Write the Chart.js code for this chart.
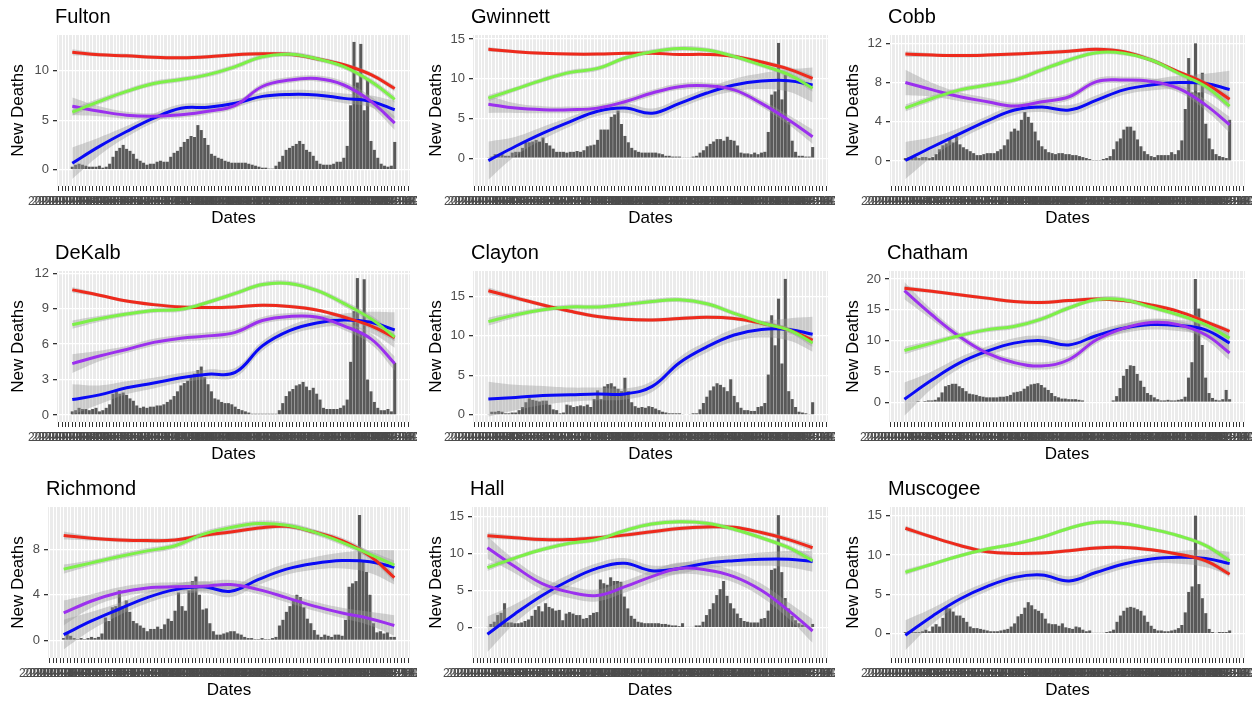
<!DOCTYPE html>
<html lang="en">
<head>
<meta charset="UTF-8">
<title>New Deaths by County</title>
<style>
  body { margin: 0; background: #ffffff; width: 1252px; height: 702px; overflow: hidden; position: relative; }
  canvas { position: absolute; }
</style>
</head>
<body>
<script src="https://cdn.jsdelivr.net/npm/chart.js"></script>
<script>
// weekly date labels (x axis), 4 empty weeks either side of the bars
const PAD = 4;
const dateLabels = [];
for (let d = new Date(Date.UTC(2020, 1, 10)), k = 0; k < 104; k++, d.setUTCDate(d.getUTCDate() + 7)) {
  dateLabels.push(d.toISOString().slice(0, 10));
}
// bar index of each point given for the smoothed curves
const sampleAt = [0, 8, 16, 24, 32, 40, 48, 56, 64, 72, 80, 88, 95];

// ---- Fulton
const fultonTicks = [0, 5, 10];
const fultonBars = [0.3,0.5,0.6,0.5,0.4,0.3,0.3,0.3,0.4,0.2, 0.3,0.6,1.3,1.9,2.2,2.5,2.1,1.9,1.6,1.1,
  0.9,0.7,0.5,0.6,0.6,0.8,0.9,0.8,0.8,1.3, 1.7,1.9,2.3,2.8,3.1,3.4,3.3,4.5,4.0,3.2,
  2.5,1.6,1.4,1.2,1.1,0.9,0.8,0.7,0.7,0.7, 0.7,0.7,0.6,0.5,0.4,0.3,0.2,0.2,0.1,0.1,
  0.4,0.8,1.4,2.0,2.2,2.4,2.6,2.9,2.6,2.0, 1.8,1.4,0.9,0.6,0.5,0.5,0.5,0.6,0.8,0.8,
  1.2,2.4,6.5,12.9,8.8,12.7,6.0,9.1,2.9,2.0, 1.2,0.6,0.4,0.3,0.4,2.8];
const fultonRed = [11.85,11.6,11.5,11.35,11.3,11.4,11.6,11.7,11.65,11.2,10.6,9.6,8.2];
const fultonRedSe = [0.3,0.2,0.2,0.2,0.2,0.2,0.2,0.2,0.2,0.2,0.2,0.25,0.3];
const fultonGreen = [5.8,6.9,7.9,8.7,9.1,9.6,10.4,11.4,11.65,11.2,10.4,8.9,7.1];
const fultonGreenSe = [0.35,0.3,0.25,0.25,0.25,0.25,0.25,0.25,0.25,0.25,0.25,0.3,0.35];
const fultonPurple = [6.4,5.9,5.5,5.4,5.55,5.9,6.5,8.4,9.05,9.2,8.55,6.9,4.7];
const fultonPurpleSe = [0.9,0.5,0.35,0.3,0.3,0.3,0.3,0.3,0.3,0.3,0.35,0.5,0.7];
const fultonBlue = [0.65,2.35,3.85,5.2,6.2,6.3,6.7,7.4,7.6,7.55,7.2,6.9,6.05];
const fultonBlueSe = [1.6,0.9,0.55,0.45,0.4,0.4,0.4,0.4,0.45,0.45,0.5,0.6,0.9];

// ---- Gwinnett
const gwinnettTicks = [0, 5, 10, 15];
const gwinnettBars = [0.1,0.2,0.5,0.5,0.5,0.3,0.3,0.7,0.8,0.8, 1.3,2.0,2.0,2.1,2.3,2.1,2.6,1.9,1.6,1.2,
  0.8,0.8,0.8,0.7,0.8,0.8,0.9,0.8,1.0,1.5, 1.6,1.7,2.3,3.6,3.6,3.6,5.2,5.5,6.0,4.3,
  2.8,2.0,1.3,1.0,0.8,0.7,0.7,0.7,0.7,0.7, 0.6,0.5,0.3,0.3,0.2,0.2,0.2,0.1,0.1,0.1,
  0.2,0.3,0.7,1.0,1.5,1.8,2.1,2.4,2.4,2.2, 2.7,2.3,2.2,1.6,0.7,0.6,0.6,0.5,0.7,0.5,
  0.7,0.8,3.3,8.0,8.4,14.5,7.4,10.5,4.6,2.2, 0.8,0.3,0.3,0.2,0.2,1.4];
const gwinnettRed = [13.7,13.4,13.2,13.1,13.1,13.2,13.2,13.05,13.05,12.8,12.1,11.2,10.05];
const gwinnettRedSe = [0.3,0.2,0.2,0.2,0.2,0.2,0.2,0.2,0.2,0.2,0.25,0.3,0.4];
const gwinnettGreen = [7.55,8.7,9.85,10.8,11.3,12.6,13.4,13.8,13.6,12.8,11.7,10.5,8.8];
const gwinnettGreenSe = [0.4,0.3,0.3,0.3,0.3,0.3,0.3,0.3,0.3,0.3,0.3,0.35,0.45];
const gwinnettPurple = [6.8,6.3,6.1,6.1,6.3,7.1,8.2,9.0,9.1,8.6,6.9,4.8,2.7];
const gwinnettPurpleSe = [1.1,0.6,0.45,0.4,0.4,0.4,0.4,0.4,0.4,0.4,0.45,0.6,0.9];
const gwinnettBlue = [-0.3,1.5,3.15,4.6,5.9,6.3,5.65,6.9,8.2,9.2,9.7,9.75,9.2];
const gwinnettBlueSe = [2.4,1.2,0.8,0.6,0.6,0.6,0.6,0.6,0.6,0.8,1.0,1.4,2.2];

// ---- Cobb
const cobbTicks = [0, 4, 8, 12];
const cobbBars = [0.3,0.4,0.5,0.4,0.3,0.4,0.4,0.3,0.4,0.7, 1.2,1.6,1.8,2.3,1.9,2.5,1.7,1.4,1.2,1.0,
  0.8,0.6,0.6,0.7,0.8,0.8,0.8,1.0,1.2,1.6, 2.2,3.0,3.3,3.1,4.2,5.0,4.5,3.9,3.0,2.1,
  1.5,1.2,0.9,0.8,0.7,0.8,0.8,0.7,0.7,0.6, 0.6,0.5,0.4,0.3,0.2,0.1,0.1,0.1,0.2,0.3,
  0.5,1.2,2.0,2.3,3.2,3.5,3.5,3.1,2.2,1.5, 1.0,0.7,0.5,0.4,0.6,0.6,0.6,0.6,0.9,0.7,
  1.1,2.1,5.3,10.5,7.0,12.0,7.0,9.0,3.8,2.3, 1.2,0.7,0.5,0.4,0.3,4.2];
const cobbRed = [10.9,10.8,10.75,10.8,10.9,11.05,11.2,11.4,11.15,10.3,9.1,7.9,6.3];
const cobbRedSe = [0.3,0.2,0.2,0.2,0.2,0.2,0.2,0.2,0.2,0.2,0.2,0.25,0.35];
const cobbGreen = [5.4,6.4,7.25,7.75,8.25,9.3,10.3,11.05,11.0,10.3,8.95,7.6,5.6];
const cobbGreenSe = [0.35,0.3,0.25,0.25,0.25,0.25,0.25,0.25,0.25,0.25,0.25,0.3,0.4];
const cobbPurple = [8.0,7.25,6.55,6.05,5.6,6.05,6.55,8.1,8.25,8.1,7.4,5.7,3.7];
const cobbPurpleSe = [1.3,0.7,0.45,0.4,0.35,0.35,0.35,0.35,0.35,0.35,0.4,0.55,0.8];
const cobbBlue = [0.05,1.45,2.8,4.1,5.2,5.5,5.2,6.2,7.25,7.75,8.0,7.9,7.3];
const cobbBlueSe = [1.9,1.0,0.6,0.5,0.5,0.5,0.5,0.5,0.5,0.55,0.7,1.0,1.9];

// ---- DeKalb
const dekalbTicks = [0, 3, 6, 9, 12];
const dekalbBars = [0.3,0.4,0.6,0.5,0.5,0.4,0.5,0.6,0.3,0.4, 0.6,0.9,1.8,2.0,1.8,1.9,1.7,1.4,1.2,0.8,
  0.6,0.7,0.6,0.7,0.7,0.8,0.8,0.9,1.1,1.3, 1.6,2.0,2.5,2.7,2.9,3.3,3.5,3.8,4.1,3.2,
  2.6,2.0,1.4,1.3,1.1,1.0,1.0,0.9,0.7,0.5, 0.4,0.3,0.2,0.1,0.1,0.1,0.1,0.1,0.1,0.1,
  0.1,0.4,1.0,1.6,2.0,2.2,2.5,2.6,2.8,2.4, 2.1,2.3,1.8,1.3,0.6,0.5,0.5,0.5,0.5,0.6,
  0.8,1.3,4.5,8.8,11.6,7.0,11.5,3.0,2.0,1.1, 0.6,0.4,0.4,0.5,0.3,4.4];
const dekalbRed = [10.6,10.15,9.65,9.35,9.15,9.1,9.15,9.3,9.2,8.9,8.3,7.55,6.55];
const dekalbRedSe = [0.25,0.15,0.15,0.15,0.15,0.15,0.15,0.15,0.15,0.15,0.2,0.25,0.3];
const dekalbGreen = [7.65,8.15,8.55,8.85,8.95,9.55,10.3,11.05,11.15,10.55,9.45,8.15,6.6];
const dekalbGreenSe = [0.35,0.25,0.2,0.2,0.2,0.2,0.2,0.2,0.2,0.2,0.25,0.3,0.35];
const dekalbPurple = [4.35,5.0,5.55,6.15,6.5,6.7,7.0,8.0,8.35,8.3,7.55,6.45,4.35];
const dekalbPurpleSe = [0.8,0.45,0.3,0.3,0.3,0.3,0.3,0.3,0.3,0.3,0.35,0.45,0.6];
const dekalbBlue = [1.3,1.7,2.3,2.7,3.15,3.45,3.6,5.85,7.15,7.8,8.05,7.85,7.2];
const dekalbBlueSe = [1.3,0.8,0.55,0.45,0.4,0.4,0.4,0.4,0.4,0.45,0.55,0.9,1.5];

// ---- Clayton
const claytonTicks = [0, 5, 10, 15];
const claytonBars = [0.1,0.4,0.4,0.5,0.4,0.2,0.2,0.3,0.3,0.6, 1.0,1.6,2.1,1.9,1.8,1.7,1.8,1.8,1.3,0.7,
  0.6,0.2,0.3,1.3,1.2,1.0,1.1,1.2,1.1,1.3, 1.0,2.0,3.1,2.0,3.6,3.9,4.0,3.6,3.3,3.0,
  4.7,3.0,1.6,1.1,0.9,1.0,0.9,1.1,1.0,0.8, 0.6,0.4,0.3,0.2,0.2,0.2,0.2,0.1,0.0,0.1,
  0.2,0.2,0.7,1.5,2.3,3.1,3.6,4.0,3.8,3.5, 3.0,4.5,2.4,1.6,0.9,0.6,0.6,0.5,0.5,1.0,
  1.1,1.5,5.1,12.6,8.8,14.7,6.5,17.2,3.0,2.0, 1.0,0.4,0.3,0.2,0.1,1.6];
const claytonRed = [15.7,14.8,13.9,13.1,12.45,12.1,12.0,12.2,12.35,12.2,11.6,10.75,9.45];
const claytonRedSe = [0.4,0.3,0.25,0.25,0.25,0.25,0.25,0.25,0.25,0.25,0.3,0.35,0.5];
const claytonGreen = [11.8,12.65,13.3,13.65,13.65,13.95,14.35,14.55,14.05,12.85,11.65,10.75,9.1];
const claytonGreenSe = [0.5,0.35,0.3,0.3,0.3,0.3,0.3,0.3,0.3,0.3,0.3,0.35,0.5];
const claytonBlue = [2.0,2.2,2.45,2.55,2.65,2.65,3.6,6.6,8.6,10.1,10.8,10.8,10.2];
const claytonBlueSe = [2.2,1.6,1.2,0.9,0.8,0.7,0.7,0.7,0.7,0.8,1.0,1.4,2.2];

// ---- Chatham
const chathamTicks = [0, 5, 10, 15, 20];
const chathamBars = [0.1,0.0,0.1,0.1,0.2,0.1,0.2,0.3,0.3,0.4, 0.8,1.6,2.6,2.8,3.0,3.0,2.6,2.3,1.8,1.4,
  1.3,1.2,1.0,0.9,0.8,0.8,0.8,0.8,0.9,0.9, 1.0,1.2,1.6,1.7,1.8,2.2,2.6,2.9,3.0,3.1,
  2.8,2.4,2.0,1.5,1.0,0.8,0.6,0.6,0.5,0.5, 0.5,0.4,0.3,0.1,0.1,0.1,0.1,0.1,0.1,0.1,
  0.1,0.3,1.0,2.3,4.3,5.4,6.0,5.9,4.6,3.5, 2.5,1.5,1.2,0.8,0.5,0.3,0.3,0.4,0.3,0.3,
  0.4,0.5,0.9,4.0,6.5,20.0,15.2,9.3,4.0,1.5, 0.7,0.4,0.3,0.5,2.0,0.5];
const chathamRed = [18.5,18.0,17.45,16.9,16.35,16.2,16.5,16.75,16.5,15.8,14.75,13.1,11.5];
const chathamRedSe = [0.4,0.3,0.3,0.3,0.3,0.3,0.3,0.3,0.3,0.3,0.3,0.35,0.45];
const chathamGreen = [8.4,9.6,10.8,11.75,12.3,13.5,15.3,16.65,16.65,15.45,14.2,12.6,10.4];
const chathamGreenSe = [0.6,0.45,0.4,0.4,0.4,0.4,0.4,0.4,0.4,0.4,0.4,0.45,0.6];
const chathamPurple = [18.1,14.2,10.7,8.0,6.45,5.9,6.9,10.1,12.0,12.95,12.6,10.95,8.0];
const chathamPurpleSe = [1.4,0.8,0.6,0.6,0.6,0.6,0.6,0.6,0.6,0.6,0.6,0.8,1.2];
const chathamBlue = [0.5,3.6,6.35,8.25,9.6,10.0,9.3,10.8,12.0,12.6,12.45,11.75,9.6];
const chathamBlueSe = [2.7,1.4,0.9,0.8,0.8,0.8,0.8,0.8,0.8,0.8,0.9,1.1,1.6];

// ---- Richmond
const richmondTicks = [0, 4, 8];
const richmondBars = [0.2,0.6,0.4,0.2,0.1,0.2,0.1,0.2,0.3,0.2, 0.3,0.6,2.0,1.7,2.9,3.0,4.4,3.0,3.5,2.5,
  1.7,1.5,1.3,1.1,0.8,1.0,1.0,1.2,1.0,1.4, 1.9,1.7,2.6,4.2,3.0,2.6,4.4,5.2,5.6,4.0,
  2.7,2.8,1.5,0.8,0.5,0.5,0.6,0.7,0.8,0.8, 0.6,0.5,0.3,0.2,0.2,0.1,0.1,0.2,0.1,0.1,
  0.2,0.3,1.3,1.8,2.5,3.0,3.5,4.0,3.8,2.9, 1.9,1.5,0.9,0.5,0.3,0.5,0.4,0.3,0.5,0.5,
  0.4,1.8,4.7,5.0,5.2,11.0,7.0,6.0,4.0,1.5, 0.7,0.8,0.6,0.7,0.3,0.3];
const richmondRed = [9.2,8.95,8.8,8.75,8.8,9.2,9.5,9.85,10.0,9.5,8.75,7.4,5.5];
const richmondRedSe = [0.35,0.2,0.2,0.2,0.2,0.2,0.2,0.2,0.2,0.2,0.25,0.3,0.35];
const richmondGreen = [6.25,6.8,7.35,7.85,8.3,9.3,9.9,10.25,10.1,9.5,8.6,7.55,6.6];
const richmondGreenSe = [0.4,0.25,0.25,0.25,0.25,0.25,0.25,0.25,0.25,0.25,0.25,0.3,0.4];
const richmondPurple = [2.4,3.45,4.2,4.6,4.7,4.75,4.9,4.45,3.75,3.0,2.4,1.9,1.3];
const richmondPurpleSe = [1.1,0.6,0.45,0.4,0.4,0.4,0.4,0.4,0.4,0.4,0.45,0.6,0.9];
const richmondBlue = [0.5,1.7,2.75,3.75,4.45,4.7,4.3,5.35,6.25,6.75,7.0,6.9,6.4];
const richmondBlueSe = [1.3,0.8,0.55,0.5,0.5,0.5,0.5,0.5,0.5,0.55,0.7,1.0,1.5];

// ---- Hall
const hallTicks = [0, 5, 10, 15];
const hallBars = [0.1,0.5,0.8,1.7,2.0,3.3,0.7,0.7,0.6,0.6, 0.7,0.9,1.1,1.6,2.4,2.9,2.2,3.3,2.8,2.6,
  2.3,2.4,1.0,1.9,2.1,1.9,1.7,1.7,1.2,1.3, 1.7,2.0,2.1,6.5,6.0,5.8,6.8,6.3,6.3,6.2,
  4.2,2.6,1.6,1.2,0.8,0.7,0.6,0.6,0.6,0.6, 0.6,0.5,0.5,0.4,0.3,0.3,0.2,0.6,0.1,0.1,
  0.1,0.3,0.3,0.8,1.7,2.5,3.3,4.4,5.2,6.3, 4.3,3.3,2.6,1.9,1.3,0.9,0.8,0.7,0.7,0.7,
  1.2,1.3,2.3,7.8,8.0,15.2,7.5,4.0,2.6,1.6, 1.0,0.6,0.4,0.2,0.1,0.5];
const hallRed = [12.4,12.15,11.9,11.9,12.15,12.5,12.95,13.4,13.6,13.55,12.85,11.9,10.8];
const hallRedSe = [0.45,0.3,0.3,0.3,0.3,0.3,0.3,0.3,0.3,0.3,0.3,0.35,0.45];
const hallGreen = [8.1,9.4,10.55,11.4,11.9,13.1,14.0,14.3,14.1,13.3,12.15,10.8,9.05];
const hallGreenSe = [0.45,0.3,0.3,0.3,0.3,0.3,0.3,0.3,0.3,0.3,0.3,0.35,0.45];
const hallPurple = [10.8,8.25,5.95,4.8,4.35,5.5,6.9,8.0,7.8,6.9,5.05,2.3,-0.45];
const hallPurpleSe = [1.5,0.9,0.8,0.8,0.8,0.8,0.8,0.8,0.8,0.8,0.9,1.1,1.6];
const hallBlue = [-0.9,1.85,4.35,6.4,8.0,8.7,7.7,8.0,8.7,9.05,9.25,9.25,8.95];
const hallBlueSe = [2.4,1.3,0.9,0.8,0.7,0.7,0.7,0.7,0.7,0.75,0.9,1.1,1.4];

// ---- Muscogee
const muscogeeTicks = [0, 5, 10, 15];
const muscogeeBars = [0.2,0.3,0.2,0.2,0.2,0.3,0.5,0.3,0.9,1.2, 0.9,2.0,3.3,3.2,2.8,2.3,2.3,2.0,1.5,0.9,
  0.7,0.7,0.6,0.5,0.4,0.3,0.3,0.3,0.4,0.5, 0.6,0.9,1.3,2.2,2.5,3.3,4.0,3.6,3.1,2.9,
  2.6,1.9,1.3,1.2,1.2,1.0,1.3,0.8,0.7,0.6, 0.9,0.8,0.5,0.3,0.4,0.1,0.1,0.1,0.1,0.2,
  0.3,0.5,1.5,2.3,2.9,3.3,3.4,3.3,3.1,2.9, 2.3,1.5,1.0,0.6,0.4,0.4,0.3,0.3,0.4,0.5,
  0.7,1.1,2.7,5.3,6.0,15.0,6.3,4.5,2.6,0.6, 0.2,0.1,0.2,0.2,0.2,0.4];
const muscogeeRed = [13.4,12.25,11.2,10.4,10.2,10.25,10.55,10.9,10.95,10.65,10.1,9.25,7.55];
const muscogeeRedSe = [0.35,0.25,0.25,0.25,0.25,0.25,0.25,0.25,0.25,0.25,0.25,0.3,0.4];
const muscogeeGreen = [7.8,8.85,9.9,10.75,11.4,12.25,13.4,14.15,14.0,13.3,12.45,11.2,9.25];
const muscogeeGreenSe = [0.35,0.25,0.25,0.25,0.25,0.25,0.25,0.25,0.25,0.25,0.25,0.3,0.4];
const muscogeeBlue = [-0.2,2.25,4.4,6.0,7.15,7.45,6.7,7.8,8.85,9.5,9.7,9.55,8.9];
const muscogeeBlueSe = [1.9,1.0,0.7,0.6,0.6,0.6,0.6,0.6,0.6,0.6,0.8,1.1,1.5];

const RED = '#ee2a1c', GREEN = '#7df048', PURPLE = '#9b30ee', BLUE = '#0a0af5';
const BAND = 'rgba(153,153,153,0.4)';

const panels = [
  { title: 'Fulton', left: 0, top: 0, plotLeft: 57, yMin: -1.65, yMax: 13.6, ticks: fultonTicks, bars: fultonBars,
    lines: [[fultonGreen, fultonGreenSe, GREEN], [fultonRed, fultonRedSe, RED], [fultonPurple, fultonPurpleSe, PURPLE], [fultonBlue, fultonBlueSe, BLUE]] },
  { title: 'Gwinnett', left: 418, top: 0, plotLeft: 55, yMin: -3.5, yMax: 15.5, ticks: gwinnettTicks, bars: gwinnettBars,
    lines: [[gwinnettGreen, gwinnettGreenSe, GREEN], [gwinnettRed, gwinnettRedSe, RED], [gwinnettPurple, gwinnettPurpleSe, PURPLE], [gwinnettBlue, gwinnettBlueSe, BLUE]] },
  { title: 'Cobb', left: 835, top: 0, plotLeft: 55, yMin: -2.55, yMax: 12.85, ticks: cobbTicks, bars: cobbBars,
    lines: [[cobbGreen, cobbGreenSe, GREEN], [cobbRed, cobbRedSe, RED], [cobbPurple, cobbPurpleSe, PURPLE], [cobbBlue, cobbBlueSe, BLUE]] },
  { title: 'DeKalb', left: 0, top: 236, plotLeft: 57, yMin: -0.6, yMax: 12.2, ticks: dekalbTicks, bars: dekalbBars,
    lines: [[dekalbGreen, dekalbGreenSe, GREEN], [dekalbRed, dekalbRedSe, RED], [dekalbPurple, dekalbPurpleSe, PURPLE], [dekalbBlue, dekalbBlueSe, BLUE]] },
  { title: 'Clayton', left: 418, top: 236, plotLeft: 55, yMin: -0.9, yMax: 18.2, ticks: claytonTicks, bars: claytonBars,
    lines: [[claytonGreen, claytonGreenSe, GREEN], [claytonRed, claytonRedSe, RED], [claytonBlue, claytonBlueSe, BLUE]] },
  { title: 'Chatham', left: 835, top: 236, plotLeft: 54, yMin: -3.2, yMax: 21.3, ticks: chathamTicks, bars: chathamBars,
    lines: [[chathamGreen, chathamGreenSe, GREEN], [chathamRed, chathamRedSe, RED], [chathamPurple, chathamPurpleSe, PURPLE], [chathamBlue, chathamBlueSe, BLUE]] },
  { title: 'Richmond', left: 0, top: 472, plotLeft: 48, yMin: -1.55, yMax: 11.7, ticks: richmondTicks, bars: richmondBars,
    lines: [[richmondGreen, richmondGreenSe, GREEN], [richmondRed, richmondRedSe, RED], [richmondPurple, richmondPurpleSe, PURPLE], [richmondBlue, richmondBlueSe, BLUE]] },
  { title: 'Hall', left: 418, top: 472, plotLeft: 54, yMin: -4.1, yMax: 16.3, ticks: hallTicks, bars: hallBars,
    lines: [[hallGreen, hallGreenSe, GREEN], [hallRed, hallRedSe, RED], [hallPurple, hallPurpleSe, PURPLE], [hallBlue, hallBlueSe, BLUE]] },
  { title: 'Muscogee', left: 835, top: 472, plotLeft: 55, yMin: -3.1, yMax: 16.1, ticks: muscogeeTicks, bars: muscogeeBars,
    lines: [[muscogeeGreen, muscogeeGreenSe, GREEN], [muscogeeRed, muscogeeRedSe, RED], [muscogeeBlue, muscogeeBlueSe, BLUE]] }
];

Chart.defaults.font.family = "'Liberation Sans', Arial, Helvetica, sans-serif";
Chart.defaults.animation = false;

// grey panel background behind the grid
const panelBg = {
  id: 'panelBg',
  beforeDraw(chart) {
    const { ctx, chartArea: a } = chart;
    ctx.save();
    ctx.fillStyle = '#ebebeb';
    ctx.fillRect(a.left, a.top, a.right - a.left, a.bottom - a.top);
    ctx.restore();
  }
};
// panel title, lined up with the plot's left edge
const panelTitle = {
  id: 'panelTitle',
  afterDraw(chart, args, opts) {
    const { ctx, chartArea: a } = chart;
    ctx.save();
    ctx.fillStyle = '#000000';
    ctx.font = "20px 'Liberation Sans', Arial, sans-serif";
    ctx.textBaseline = 'alphabetic';
    ctx.fillText(opts.text, a.left - 2, 23);
    ctx.restore();
  }
};

function pts(values, offsets, sign) {
  return values.map((v, k) => ({ x: dateLabels[PAD + sampleAt[k]], y: offsets ? v + sign * offsets[k] : v }));
}

panels.forEach(p => {
  const canvas = document.createElement('canvas');
  canvas.width = 417;
  canvas.height = 236;
  canvas.style.left = p.left + 'px';
  canvas.style.top = p.top + 'px';
  document.body.appendChild(canvas);

  const datasets = [];
  p.lines.forEach(([fit, se, color], n) => {
    datasets.push({ type: 'line', data: pts(fit), borderColor: color, borderWidth: 3, pointRadius: 0, tension: 0.4, fill: false, order: n });
  });
  p.lines.forEach(([fit, se]) => {
    datasets.push({ type: 'line', data: pts(fit, se, -1), borderColor: 'rgba(0,0,0,0)', borderWidth: 0, pointRadius: 0, tension: 0.4, fill: false, order: 10 });
    datasets.push({ type: 'line', data: pts(fit, se, 1), borderColor: 'rgba(0,0,0,0)', borderWidth: 0, pointRadius: 0, tension: 0.4, fill: '-1', backgroundColor: BAND, order: 10 });
  });
  datasets.push({
    type: 'bar',
    data: p.bars.map((v, i) => ({ x: dateLabels[PAD + i], y: v })),
    backgroundColor: '#595959',
    barPercentage: 0.9,
    categoryPercentage: 1,
    order: 20
  });

  new Chart(canvas, {
    type: 'bar',
    data: { labels: dateLabels, datasets: datasets },
    options: {
      responsive: false,
      devicePixelRatio: 1,
      layout: { padding: { top: 35, right: 7, bottom: 0, left: 0 } },
      plugins: {
        legend: { display: false },
        tooltip: { enabled: false },
        panelTitle: { text: p.title }
      },
      scales: {
        x: {
          offset: true,
          grid: { offset: false, color: '#ffffff', lineWidth: 1, tickLength: 5, tickColor: '#333333' },
          border: { display: false },
          ticks: { autoSkip: false, maxRotation: 0, minRotation: 0, color: '#4d4d4d', font: { size: 12 }, padding: 3 },
          title: { display: true, text: 'Dates', color: '#000000', font: { size: 17 }, padding: { top: 0, bottom: 7 } },
          afterFit: s => { s.height = 50; s.paddingLeft = 0; s.paddingRight = 0; }
        },
        y: {
          min: p.yMin,
          max: p.yMax,
          afterBuildTicks: s => { s.ticks = p.ticks.map(v => ({ value: v })); },
          afterFit: s => { s.width = p.plotLeft; },
          grid: { color: '#ffffff', lineWidth: 1.3, tickLength: 4, tickColor: '#333333' },
          border: { display: false },
          ticks: { color: '#4d4d4d', font: { size: 13 }, padding: 4 },
          title: { display: true, text: 'New Deaths', color: '#000000', font: { size: 17 }, padding: { top: 8, bottom: 0 } }
        }
      }
    },
    plugins: [panelBg, panelTitle]
  });
});
</script>
</body>
</html>
